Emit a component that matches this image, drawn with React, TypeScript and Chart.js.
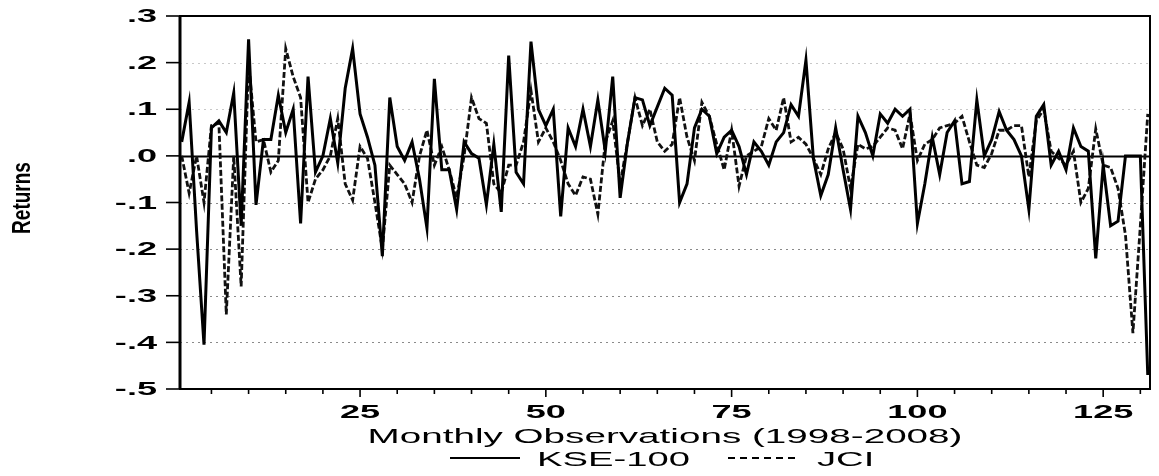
import React, { useEffect, useRef } from "react";
import { Chart, registerables } from "chart.js";

Chart.register(...registerables);

// Monthly returns, observation 1..131
const kse100 = [
  0.03, 0.115, -0.16, -0.405, 0.06, 0.075, 0.05, 0.135, -0.15, 0.25,
  -0.105, 0.035, 0.035, 0.13, 0.05, 0.1, -0.145, 0.17, -0.035, 0.0,
  0.08, -0.015, 0.145, 0.23, 0.09, 0.04, -0.02, -0.215, 0.125, 0.02,
  -0.01, 0.03, -0.05, -0.155, 0.165, -0.03, -0.03, -0.115, 0.03, 0.005,
  -0.005, -0.105, 0.025, -0.12, 0.215, -0.035, -0.06, 0.245, 0.1, 0.065,
  0.1, -0.13, 0.06, 0.02, 0.1, 0.02, 0.12, 0.01, 0.17, -0.09,
  0.03, 0.125, 0.12, 0.065, 0.105, 0.145, 0.13, -0.1, -0.06, 0.06,
  0.1, 0.085, 0.005, 0.04, 0.055, 0.02, -0.04, 0.03, 0.01, -0.02,
  0.03, 0.05, 0.11, 0.085, 0.205, -0.005, -0.085, -0.04, 0.06, -0.03,
  -0.115, 0.085, 0.05, 0.0, 0.09, 0.07, 0.1, 0.085, 0.1, -0.145,
  -0.06, 0.04, -0.04, 0.05, 0.075, -0.06, -0.055, 0.12, 0.0, 0.035,
  0.095, 0.055, 0.035, 0.0, -0.115, 0.085, 0.11, -0.02, 0.01, -0.03,
  0.06, 0.02, 0.01, -0.22, -0.02, -0.15, -0.14, 0.0, 0.0, 0.0,
  -0.47,
];

const jciReturns = [
  0.0, -0.08, 0.0, -0.1, 0.065, 0.07, -0.34, 0.0, -0.28, 0.2,
  0.03, 0.035, -0.035, -0.01, 0.23, 0.17, 0.125, -0.1, -0.05, -0.03,
  0.0, 0.08, -0.06, -0.095, 0.02, -0.005, -0.1, -0.2, -0.02, -0.04,
  -0.06, -0.1, 0.0, 0.055, -0.02, 0.02, -0.03, -0.09, 0.0, 0.125,
  0.08, 0.07, -0.06, -0.08, -0.02, -0.02, 0.03, 0.14, 0.03, 0.06,
  0.03, -0.01, -0.06, -0.085, -0.045, -0.05, -0.125, 0.03, 0.075, -0.06,
  0.03, 0.125, 0.065, 0.1, 0.03, 0.01, 0.025, 0.125, 0.04, -0.01,
  0.115, 0.085, 0.025, -0.03, 0.055, -0.065, 0.0, 0.01, 0.02, 0.08,
  0.055, 0.125, 0.03, 0.04, 0.025, -0.005, -0.04, 0.015, 0.05, 0.015,
  -0.07, 0.025, 0.015, 0.02, 0.04, 0.06, 0.055, 0.015, 0.09, -0.01,
  0.025, 0.035, 0.06, 0.065, 0.07, 0.085, 0.03, -0.02, -0.025, 0.005,
  0.055, 0.055, 0.065, 0.065, -0.045, 0.075, 0.1, 0.01, -0.005, -0.02,
  0.01, -0.1, -0.07, 0.058, -0.02, -0.025, -0.07, -0.17, -0.38, -0.15,
  0.09,
];

const observations = kse100.map((_, i) => i + 1);

const yTickValues = [0.3, 0.2, 0.1, 0.0, -0.1, -0.2, -0.3, -0.4, -0.5];
const yTickLabels = [".3", ".2", ".1", ".0", "-.1", "-.2", "-.3", "-.4", "-.5"];
const xTickValues = [25, 50, 75, 100, 125];
const xTickLabels = ["25", "50", "75", "100", "125"];
const xMinorTicks = [
  5, 10, 15, 20, 25, 30, 35, 40, 45, 50, 55, 60, 65, 70, 75, 80, 85, 90, 95,
  100, 105, 110, 115, 120, 125, 130,
];

const xTitle = "Monthly Observations (1998-2008)";
const yTitle = "Returns";
const seriesNames = ["KSE-100", "JCI"];

const FONT = '"Liberation Sans", Arial, Helvetica, sans-serif';

function stretchText(
  ctx: CanvasRenderingContext2D,
  text: string,
  x: number,
  y: number,
  sx: number,
  align: "left" | "center" | "right",
  baseline: CanvasTextBaseline
) {
  ctx.save();
  ctx.textAlign = "left";
  ctx.textBaseline = baseline;
  const w = ctx.measureText(text).width * sx;
  let left = x;
  if (align === "center") left = x - w / 2;
  else if (align === "right") left = x - w;
  ctx.translate(left, y);
  ctx.scale(sx, 1);
  ctx.fillText(text, 0, 0);
  ctx.restore();
}

const decorPlugin = {
  id: "eviewsDecor",
  beforeDatasetsDraw(chart: any) {
    const { ctx, chartArea: a, scales } = chart;
    const y = scales.y;
    ctx.save();
    yTickValues.forEach((v) => {
      if (v >= 0.3 || v <= -0.5) return;
      const py = Math.round(y.getPixelForValue(v));
      ctx.beginPath();
      if (v === 0) {
        ctx.setLineDash([]);
        ctx.strokeStyle = "#000";
        ctx.lineWidth = 2;
      } else {
        ctx.setLineDash([2, 4]);
        ctx.strokeStyle = v > 0 ? "#c8c8c8" : "#8a8a8a";
        ctx.lineWidth = 1;
      }
      ctx.moveTo(a.left, py + 0.5);
      ctx.lineTo(a.right, py + 0.5);
      ctx.stroke();
    });
    ctx.restore();
  },
  afterDraw(chart: any) {
    const { ctx, chartArea: a, scales } = chart;
    const x = scales.x;
    const y = scales.y;
    ctx.save();
    ctx.setLineDash([]);
    ctx.strokeStyle = "#000";
    ctx.fillStyle = "#000";

    // frame
    ctx.lineWidth = 2;
    ctx.strokeRect(a.left, a.top, a.right - a.left, a.bottom - a.top);
    ctx.lineWidth = 3;
    ctx.beginPath();
    ctx.moveTo(a.left, a.top);
    ctx.lineTo(a.left, a.bottom);
    ctx.stroke();

    // y ticks and labels
    ctx.lineWidth = 1.6;
    ctx.font = `bold 19px ${FONT}`;
    yTickValues.forEach((v, i) => {
      const py = y.getPixelForValue(v);
      ctx.beginPath();
      ctx.moveTo(a.left - 14, py);
      ctx.lineTo(a.left, py);
      ctx.stroke();
      stretchText(ctx, yTickLabels[i], a.left - 23, py + 1, 1.9, "right", "middle");
    });

    // x ticks
    ctx.lineWidth = 1.6;
    xMinorTicks.forEach((v) => {
      const px = x.getPixelForValue(v);
      const len = v % 25 === 0 ? 8 : 5;
      ctx.beginPath();
      ctx.moveTo(px, a.bottom);
      ctx.lineTo(px, a.bottom + len);
      ctx.stroke();
    });
    ctx.font = `bold 19px ${FONT}`;
    xTickValues.forEach((v, i) => {
      const px = x.getPixelForValue(v);
      stretchText(ctx, xTickLabels[i], px, a.bottom + 29, 1.9, "center", "alphabetic");
    });

    // x title
    ctx.font = `21px ${FONT}`;
    const cx = (a.left + a.right) / 2;
    stretchText(ctx, xTitle, cx, a.bottom + 54, 1.84, "center", "alphabetic");

    // legend
    const ly = a.bottom + 69;
    ctx.lineWidth = 2.2;
    ctx.beginPath();
    ctx.moveTo(450, ly);
    ctx.lineTo(520, ly);
    ctx.stroke();
    stretchText(ctx, seriesNames[0], 537, a.bottom + 77, 1.82, "left", "alphabetic");
    ctx.setLineDash([7, 5]);
    ctx.beginPath();
    ctx.moveTo(728, ly);
    ctx.lineTo(796, ly);
    ctx.stroke();
    ctx.setLineDash([]);
    stretchText(ctx, seriesNames[1], 817, a.bottom + 77, 1.82, "left", "alphabetic");

    // y title (rotated, stretched horizontally)
    ctx.font = `bold 19px ${FONT}`;
    ctx.save();
    ctx.translate(23, 198);
    ctx.scale(1.4, 1);
    ctx.rotate(-Math.PI / 2);
    ctx.textAlign = "center";
    ctx.textBaseline = "middle";
    ctx.fillText(yTitle, 0, 0);
    ctx.restore();

    ctx.restore();
  },
};

export default function App() {
  const canvasRef = useRef<HTMLCanvasElement | null>(null);

  useEffect(() => {
    const canvas = canvasRef.current;
    if (!canvas) return;
    const toPoints = (vals: number[]) => vals.map((v, i) => ({ x: observations[i], y: v }));
    const chart = new Chart(canvas, {
      type: "line",
      data: {
        datasets: [
          {
            label: seriesNames[0],
            data: toPoints(kse100),
            borderColor: "#000",
            borderWidth: 3,
            pointRadius: 0,
            tension: 0,
            fill: false,
          },
          {
            label: seriesNames[1],
            data: toPoints(jciReturns),
            borderColor: "#111",
            borderWidth: 2.8,
            borderDash: [6, 2.5],
            pointRadius: 0,
            tension: 0,
            fill: false,
          },
        ],
      },
      options: {
        animation: false,
        responsive: false,
        devicePixelRatio: 1,
        layout: { padding: { left: 180, right: 9, top: 16, bottom: 87 } },
        plugins: {
          legend: { display: false },
          tooltip: { enabled: false },
          title: { display: false },
        },
        scales: {
          x: { type: "linear", min: 0.77, max: 131.3, display: false },
          y: { type: "linear", min: -0.5, max: 0.3, display: false },
        },
      },
      plugins: [decorPlugin],
    });
    return () => chart.destroy();
  }, []);

  return (
    <div style={{ position: "fixed", left: 0, top: 0, width: 1159, height: 476, background: "#fff" }}>
      <canvas ref={canvasRef} width={1159} height={476} style={{ display: "block" }} />
    </div>
  );
}
